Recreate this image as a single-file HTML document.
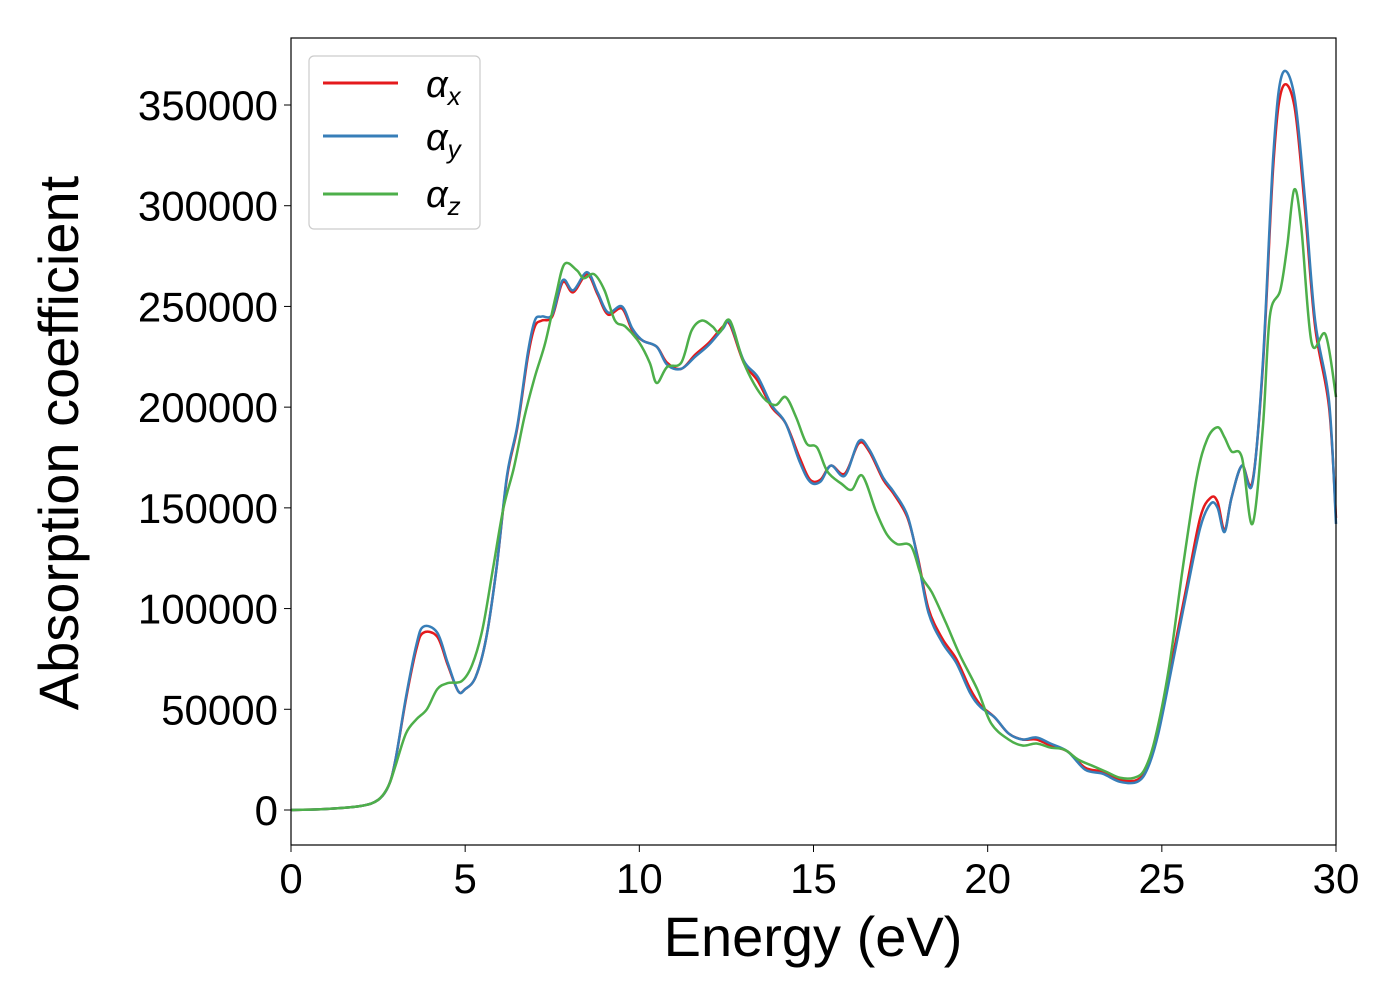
<!DOCTYPE html>
<html><head><meta charset="utf-8"><style>
body{margin:0;background:#fff;}
svg text{font-family:"Liberation Sans","DejaVu Sans",sans-serif;fill:#000;}
</style></head><body>
<svg id="chart" width="1400" height="1000" xmlns="http://www.w3.org/2000/svg">
<rect width="1400" height="1000" fill="#fff"/>
<g id="series"></g>
<rect x="291" y="38" width="1045" height="807" fill="none" stroke="#000" stroke-width="1.2"/>
<g id="xticks"></g>
<g id="yticks"></g>
<text x="813" y="956" font-size="56" text-anchor="middle">Energy (eV)</text>
<text transform="translate(78,443) rotate(-90)" font-size="56" text-anchor="middle">Absorption coefficient</text>
<g>
<rect x="309" y="56" width="171" height="173" rx="5" fill="#fff" stroke="#ccc" stroke-width="1.2"/>
<line x1="323" y1="83" x2="398" y2="83" stroke="#e41a1c" stroke-width="3"/>
<line x1="323" y1="136" x2="398" y2="136" stroke="#377eb8" stroke-width="3"/>
<line x1="323" y1="194" x2="398" y2="194" stroke="#4daf4a" stroke-width="3"/>
<text x="426" y="97" font-size="38" font-style="italic">α<tspan font-size="26" dy="8">x</tspan></text>
<text x="426" y="150" font-size="38" font-style="italic">α<tspan font-size="26" dy="8">y</tspan></text>
<text x="426" y="207" font-size="38" font-style="italic">α<tspan font-size="26" dy="8">z</tspan></text>
</g>
</svg>
<script>
const xTicks=[0,5,10,15,20,25,30];
const yTicks=[0,50000,100000,150000,200000,250000,300000,350000];
const energyX=[0,1,2,2.5,2.8,3.0,3.3,3.6,3.8,4.2,4.5,4.8,5.0,5.3,5.6,5.9,6.2,6.5,6.8,7.0,7.2,7.5,7.8,8.1,8.5,8.8,9.1,9.5,9.8,10.1,10.5,10.8,11.2,11.6,12.0,12.4,12.6,13.0,13.4,13.8,14.2,14.6,14.9,15.2,15.5,15.9,16.3,16.6,17.0,17.3,17.7,18.0,18.3,18.7,19.1,19.5,19.8,20.2,20.6,21.0,21.4,21.8,22.3,22.8,23.3,23.8,24.3,24.6,24.9,25.3,25.7,26.1,26.4,26.6,26.8,27.0,27.3,27.6,27.9,28.2,28.45,28.8,29.1,29.4,29.8,30];
const alphaX=[0,500,2000,5000,12000,25000,55000,80000,88000,86000,72000,59000,60000,66000,85000,120000,165000,190000,225000,240000,243000,245000,262000,257000,266000,256000,246000,249000,238000,233000,230000,222000,219000,226000,232000,240000,241000,222000,213000,200000,192000,175000,164000,164000,171000,167000,182000,178000,164000,157000,145000,125000,100000,85000,75000,60000,52000,46000,38000,35000,35000,32000,29000,21000,19000,15000,15000,22000,40000,75000,110000,145000,155000,153000,139000,155000,171000,163000,220000,320000,358000,350000,300000,240000,200000,145000];
const alphaY=[0,500,2000,5000,12000,25000,56000,82000,91000,88000,73000,59000,60000,66000,85000,120000,166000,191000,227000,243000,245000,246000,263000,258000,267000,257000,247000,250000,239000,233000,230000,221000,219000,225000,231000,239000,242000,223000,215000,201000,192000,173000,163000,163000,171000,166000,183000,179000,165000,158000,146000,124000,98000,83000,73000,58000,51000,46000,38000,35000,36000,33000,29000,20000,18000,14000,14000,21000,38000,72000,107000,140000,152000,150000,138000,155000,171000,162000,222000,325000,365000,355000,305000,243000,203000,142000];
const energyZ=[0,1,2,2.5,2.8,3.0,3.3,3.6,3.9,4.2,4.5,4.9,5.2,5.5,5.8,6.1,6.4,6.7,7.0,7.3,7.6,7.85,8.2,8.4,8.7,9.0,9.3,9.6,10.0,10.3,10.5,10.8,11.2,11.5,11.8,12.1,12.3,12.6,13.0,13.5,13.9,14.2,14.5,14.8,15.1,15.4,15.8,16.1,16.4,16.8,17.1,17.4,17.8,18.1,18.4,18.8,19.2,19.7,20.1,20.6,21.0,21.4,21.8,22.2,22.6,23.0,23.4,23.8,24.2,24.5,24.8,25.2,25.6,26.0,26.3,26.6,26.8,27.0,27.3,27.6,27.9,28.1,28.4,28.6,28.8,29.0,29.3,29.7,30];
const alphaZ=[0,500,2000,5000,12000,22000,38000,45000,50000,60000,63000,64000,72000,90000,120000,150000,170000,195000,215000,232000,255000,271000,268000,264000,266000,258000,243000,240000,232000,222000,212000,220000,222000,238000,243000,240000,237000,243000,222000,206000,201000,205000,195000,182000,180000,168000,162000,159000,166000,148000,137000,132000,131000,116000,108000,93000,77000,60000,43000,35000,32000,33000,31000,30000,25000,22000,19000,16000,16000,20000,35000,70000,120000,165000,184000,190000,185000,178000,175000,142000,190000,245000,258000,280000,308000,290000,232000,236000,205000];

const NS="http://www.w3.org/2000/svg";
const xs=e=>291+(e-0)*(1045/30);
const ys=v=>810-v*(705/350000);
function path(ex,vals){
  const p=ex.map((e,i)=>[xs(e),ys(vals[i])]);
  let d=`M${p[0][0]},${p[0][1]}`;
  for(let i=0;i<p.length-1;i++){
    const p0=p[Math.max(0,i-1)],p1=p[i],p2=p[i+1],p3=p[Math.min(p.length-1,i+2)];
    const c1=[p1[0]+(p2[0]-p0[0])/6,p1[1]+(p2[1]-p0[1])/6];
    const c2=[p2[0]-(p3[0]-p1[0])/6,p2[1]-(p3[1]-p1[1])/6];
    d+=`C${c1[0]},${c1[1]} ${c2[0]},${c2[1]} ${p2[0]},${p2[1]}`;
  }
  return d;
}
const g=document.getElementById('series');
[[energyX,alphaX,'#e41a1c','series-alpha-x'],[energyX,alphaY,'#377eb8','series-alpha-y'],[energyZ,alphaZ,'#4daf4a','series-alpha-z']].forEach(s=>{
  const el=document.createElementNS(NS,'path');
  el.setAttribute('d',path(s[0],s[1]));
  el.setAttribute('fill','none');el.setAttribute('stroke',s[2]);el.setAttribute('stroke-width','2.5');
  
  
  g.appendChild(el);
});
const xg=document.getElementById('xticks');
xTicks.forEach(t=>{
  const l=document.createElementNS(NS,'line');
  l.setAttribute('x1',xs(t));l.setAttribute('x2',xs(t));l.setAttribute('y1',845);l.setAttribute('y2',852);l.setAttribute('stroke','#000');
  
  
  xg.appendChild(l);
  const tx=document.createElementNS(NS,'text');
  tx.setAttribute('x',xs(t));tx.setAttribute('y',893);tx.setAttribute('font-size','42');tx.setAttribute('text-anchor','middle');
  tx.textContent=t;
  
  
  xg.appendChild(tx);
});
const yg=document.getElementById('yticks');
yTicks.forEach(t=>{
  const l=document.createElementNS(NS,'line');
  l.setAttribute('x1',284);l.setAttribute('x2',291);l.setAttribute('y1',ys(t));l.setAttribute('y2',ys(t));l.setAttribute('stroke','#000');
  
  
  yg.appendChild(l);
  const tx=document.createElementNS(NS,'text');
  tx.setAttribute('x',278);tx.setAttribute('y',ys(t)+15);tx.setAttribute('font-size','42');tx.setAttribute('text-anchor','end');
  tx.textContent=t;
  
  
  yg.appendChild(tx);
});
</script>
</body></html>
